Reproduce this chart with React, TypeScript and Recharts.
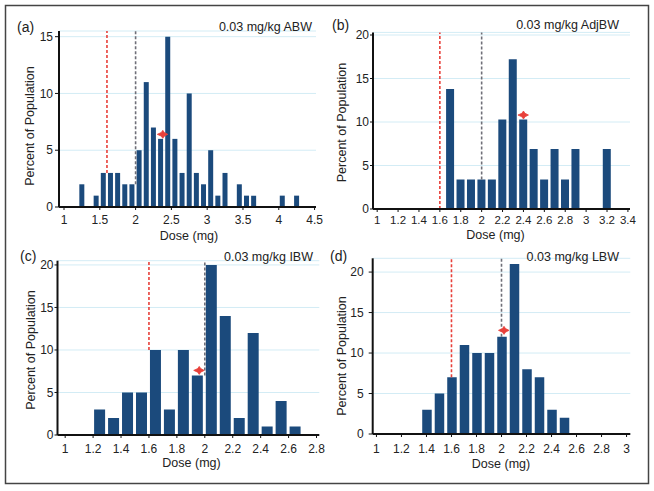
import React from 'react';
import { ComposedChart, Bar, XAxis, YAxis, CartesianGrid, ReferenceLine, ReferenceDot } from 'recharts';

// (a) 0.03 mg/kg ABW
const abwDose = [1.25, 1.45, 1.55, 1.65, 1.75, 1.85, 1.95, 2.05, 2.15, 2.25, 2.35, 2.45, 2.55, 2.65, 2.75, 2.85, 2.95, 3.05, 3.15, 3.25, 3.45, 3.55, 3.65, 4.05, 4.25];
const abwPct = [2, 1, 3, 3, 3, 2, 2, 5, 11, 7, 6, 15, 6, 3, 10, 3, 2, 5, 1, 3, 2, 1, 1, 1, 1];
const abwMean = { x: 2.38, y: 6.4 };

// (b) 0.03 mg/kg AdjBW
const adjDose = [1.7, 1.8, 1.9, 2.0, 2.1, 2.2, 2.3, 2.4, 2.5, 2.6, 2.7, 2.8, 2.9, 3.2];
const adjPct = [13.8, 3.4, 3.4, 3.4, 3.4, 10.3, 17.2, 10.3, 6.9, 3.4, 6.9, 3.4, 6.9, 6.9];
const adjMean = { x: 2.4, y: 10.8 };

// (c) 0.03 mg/kg IBW
const ibwDose = [1.25, 1.35, 1.45, 1.55, 1.65, 1.75, 1.85, 1.95, 2.05, 2.15, 2.25, 2.35, 2.45, 2.55, 2.65];
const ibwPct = [3, 2, 5, 5, 10, 3, 10, 7, 20, 14, 2, 12, 1, 4, 1];
const ibwMean = { x: 1.96, y: 7.6 };

// (d) 0.03 mg/kg LBW
const lbwDose = [1.4, 1.5, 1.6, 1.7, 1.8, 1.9, 2.0, 2.1, 2.2, 2.3, 2.4, 2.5];
const lbwPct = [3, 5, 7, 11, 10, 10, 12, 21, 8, 7, 3, 2];
const lbwMean = { x: 2.02, y: 12.8 };

// reference doses and where the dashed lines stop (histogram height there)
const redDose = 1.6;
const greyDose = 2.0;
const redFrom = [3, 0, 10, 7];
const greyFrom = [2, 3.4, 7, 12];

const ticksA = [1, 1.5, 2, 2.5, 3, 3.5, 4, 4.5];
const ticksB = [1, 1.2, 1.4, 1.6, 1.8, 2, 2.2, 2.4, 2.6, 2.8, 3, 3.2, 3.4];
const ticksC = [1, 1.2, 1.4, 1.6, 1.8, 2, 2.2, 2.4, 2.6, 2.8];
const ticksD = [1, 1.2, 1.4, 1.6, 1.8, 2, 2.2, 2.4, 2.6, 2.8, 3];
const yTicks15 = [0, 5, 10, 15];
const yTicks20 = [0, 5, 10, 15, 20];

const FONT = '"Liberation Sans", Arial, sans-serif';
const BAR = '#1b4a7c';
const RED = '#e8403a';
const GREY = '#6f6f78';
const INK = '#222';

const toRows = (dose: number[], pct: number[]) => dose.map((d, i) => ({ x: d, y: pct[i] }));

const Star = (props: any) => {
  const { cx, cy } = props;
  if (cx == null || cy == null) return null;
  const d = `M${cx - 5.5},${cy} L${cx - 1.5},${cy - 1.8} L${cx},${cy - 4} L${cx + 1.5},${cy - 1.8} L${cx + 5},${cy} L${cx + 1.5},${cy + 1.8} L${cx},${cy + 4} L${cx - 1.5},${cy + 1.8} Z`;
  return <path d={d} fill={RED} stroke={RED} strokeWidth={0.8} />;
};

interface PanelProps {
  left: number;
  top: number;
  width: number;
  height: number;
  margin: { top: number; right: number; bottom: number; left: number };
  yAxisWidth: number;
  xAxisHeight: number;
  rows: { x: number; y: number }[];
  mean: { x: number; y: number };
  xDomain: [number, number];
  yDomain: [number, number];
  xTicks: number[];
  yTicks: number[];
  barSize: number;
  red: number;
  grey: number;
  redFrom: number;
  greyFrom: number;
  yTickSize: number;
  yTickMargin: number;
  xTickMargin: number;
  tickFont: number;
}

const Panel: React.FC<PanelProps> = p => {
  const yTop = p.yDomain[1];
  return (
    <div style={{ position: 'absolute', left: p.left, top: p.top }}>
      <ComposedChart width={p.width} height={p.height} data={p.rows} margin={p.margin}>
        <CartesianGrid vertical={false} stroke="#d3ecf5" />
        <XAxis
          dataKey="x"
          type="number"
          domain={p.xDomain}
          allowDataOverflow
          ticks={p.xTicks}
          interval={0}
          height={p.xAxisHeight}
          axisLine={{ stroke: '#111', strokeWidth: 2 }}
          tickLine={{ stroke: '#111' }}
          tickSize={3}
          tickMargin={p.xTickMargin}
          tick={{ fill: INK, fontSize: p.tickFont, fontFamily: FONT }}
        />
        <YAxis
          type="number"
          domain={p.yDomain}
          allowDataOverflow
          ticks={p.yTicks}
          interval={0}
          width={p.yAxisWidth}
          axisLine={{ stroke: '#111', strokeWidth: 2 }}
          tickLine={{ stroke: '#111' }}
          tickSize={p.yTickSize}
          tickMargin={p.yTickMargin}
          tick={{ fill: INK, fontSize: 12, fontFamily: FONT }}
        />
        <ReferenceLine
          segment={[{ x: p.red, y: p.redFrom }, { x: p.red, y: yTop }]}
          stroke={RED}
          strokeWidth={1.6}
          strokeDasharray="3 2"
        />
        <ReferenceLine
          segment={[{ x: p.grey, y: p.greyFrom }, { x: p.grey, y: yTop }]}
          stroke={GREY}
          strokeWidth={1.6}
          strokeDasharray="3 2"
        />
        <Bar dataKey="y" fill={BAR} barSize={p.barSize} isAnimationActive={false} />
        <ReferenceDot x={p.mean.x} y={p.mean.y} shape={(s: any) => <Star {...s} />} />
      </ComposedChart>
    </div>
  );
};

const App: React.FC = () => {
  const txt = { fontFamily: FONT, fill: INK } as const;
  return (
    <div style={{ position: 'absolute', left: 0, top: 0, width: 654, height: 491, background: '#fff', overflow: 'hidden' }}>
      <Panel
        left={0} top={0} width={327} height={240}
        margin={{ top: 31, right: 11, bottom: 3, left: 0 }}
        yAxisWidth={59} xAxisHeight={30}
        rows={toRows(abwDose, abwPct)} mean={abwMean}
        xDomain={[0.93, 4.52]} yDomain={[0, 15.5]}
        xTicks={ticksA} yTicks={yTicks15}
        barSize={5} red={redDose} grey={greyDose} redFrom={redFrom[0]} greyFrom={greyFrom[0]}
        yTickSize={4} yTickMargin={2} xTickMargin={5} tickFont={12}
      />
      <Panel
        left={327} top={0} width={327} height={240}
        margin={{ top: 32.4, right: 24, bottom: 3, left: 0 }}
        yAxisWidth={46} xAxisHeight={28}
        rows={toRows(adjDose, adjPct)} mean={adjMean}
        xDomain={[0.96, 3.42]} yDomain={[0, 20.3]}
        xTicks={ticksB} yTicks={yTicks20}
        barSize={8} red={redDose} grey={greyDose} redFrom={redFrom[1]} greyFrom={greyFrom[1]}
        yTickSize={3} yTickMargin={1} xTickMargin={4} tickFont={11.5}
      />
      <Panel
        left={0} top={240} width={327} height={251}
        margin={{ top: 20.7, right: 7.7, bottom: 16, left: 0 }}
        yAxisWidth={57.5} xAxisHeight={40}
        rows={toRows(ibwDose, ibwPct)} mean={ibwMean}
        xDomain={[0.945, 2.82]} yDomain={[0, 20.5]}
        xTicks={ticksC} yTicks={yTicks20}
        barSize={11} red={redDose} grey={greyDose} redFrom={redFrom[2]} greyFrom={greyFrom[2]}
        yTickSize={3} yTickMargin={1} xTickMargin={6} tickFont={12}
      />
      <Panel
        left={327} top={240} width={327} height={251}
        margin={{ top: 18.3, right: 23.7, bottom: 17, left: 0 }}
        yAxisWidth={45.7} xAxisHeight={40}
        rows={toRows(lbwDose, lbwPct)} mean={lbwMean}
        xDomain={[0.97, 3.03]} yDomain={[0, 21.7]}
        xTicks={ticksD} yTicks={yTicks20}
        barSize={9.5} red={redDose} grey={greyDose} redFrom={redFrom[3]} greyFrom={greyFrom[3]}
        yTickSize={4} yTickMargin={5} xTickMargin={7} tickFont={12}
      />
      <svg width={654} height={491} style={{ position: 'absolute', left: 0, top: 0, pointerEvents: 'none' }}>
        <rect x={5.5} y={5.5} width={643} height={478} fill="none" stroke="#444" strokeWidth={1.5} />

        <text x={17} y={27} {...txt} fontSize={14} dominantBaseline="central">(a)</text>
        <text x={332} y={25} {...txt} fontSize={14} dominantBaseline="central">(b)</text>
        <text x={20} y={256} {...txt} fontSize={14} dominantBaseline="central">(c)</text>
        <text x={330} y={256} {...txt} fontSize={14} dominantBaseline="central">(d)</text>

        <text x={312} y={26.5} {...txt} fontSize={12.5} textAnchor="end" dominantBaseline="central">0.03 mg/kg ABW</text>
        <text x={619} y={25} {...txt} fontSize={12.5} textAnchor="end" dominantBaseline="central">0.03 mg/kg AdjBW</text>
        <text x={313} y={256.5} {...txt} fontSize={12.5} textAnchor="end" dominantBaseline="central">0.03 mg/kg IBW</text>
        <text x={619} y={256.5} {...txt} fontSize={12.5} textAnchor="end" dominantBaseline="central">0.03 mg/kg LBW</text>

        <text transform="translate(30,126) rotate(-90)" {...txt} fontSize={12.5} textAnchor="middle" dominantBaseline="central">Percent of Population</text>
        <text transform="translate(342,122.5) rotate(-90)" {...txt} fontSize={12.5} textAnchor="middle" dominantBaseline="central">Percent of Population</text>
        <text transform="translate(30.5,350) rotate(-90)" {...txt} fontSize={12.5} textAnchor="middle" dominantBaseline="central">Percent of Population</text>
        <text transform="translate(342,356) rotate(-90)" {...txt} fontSize={12.5} textAnchor="middle" dominantBaseline="central">Percent of Population</text>

        <text x={189} y={236} {...txt} fontSize={12.5} textAnchor="middle" dominantBaseline="central">Dose (mg)</text>
        <text x={495.5} y={235} {...txt} fontSize={12.5} textAnchor="middle" dominantBaseline="central">Dose (mg)</text>
        <text x={191.5} y={463} {...txt} fontSize={12.5} textAnchor="middle" dominantBaseline="central">Dose (mg)</text>
        <text x={501} y={464} {...txt} fontSize={12.5} textAnchor="middle" dominantBaseline="central">Dose (mg)</text>
      </svg>
    </div>
  );
};

export default App;
